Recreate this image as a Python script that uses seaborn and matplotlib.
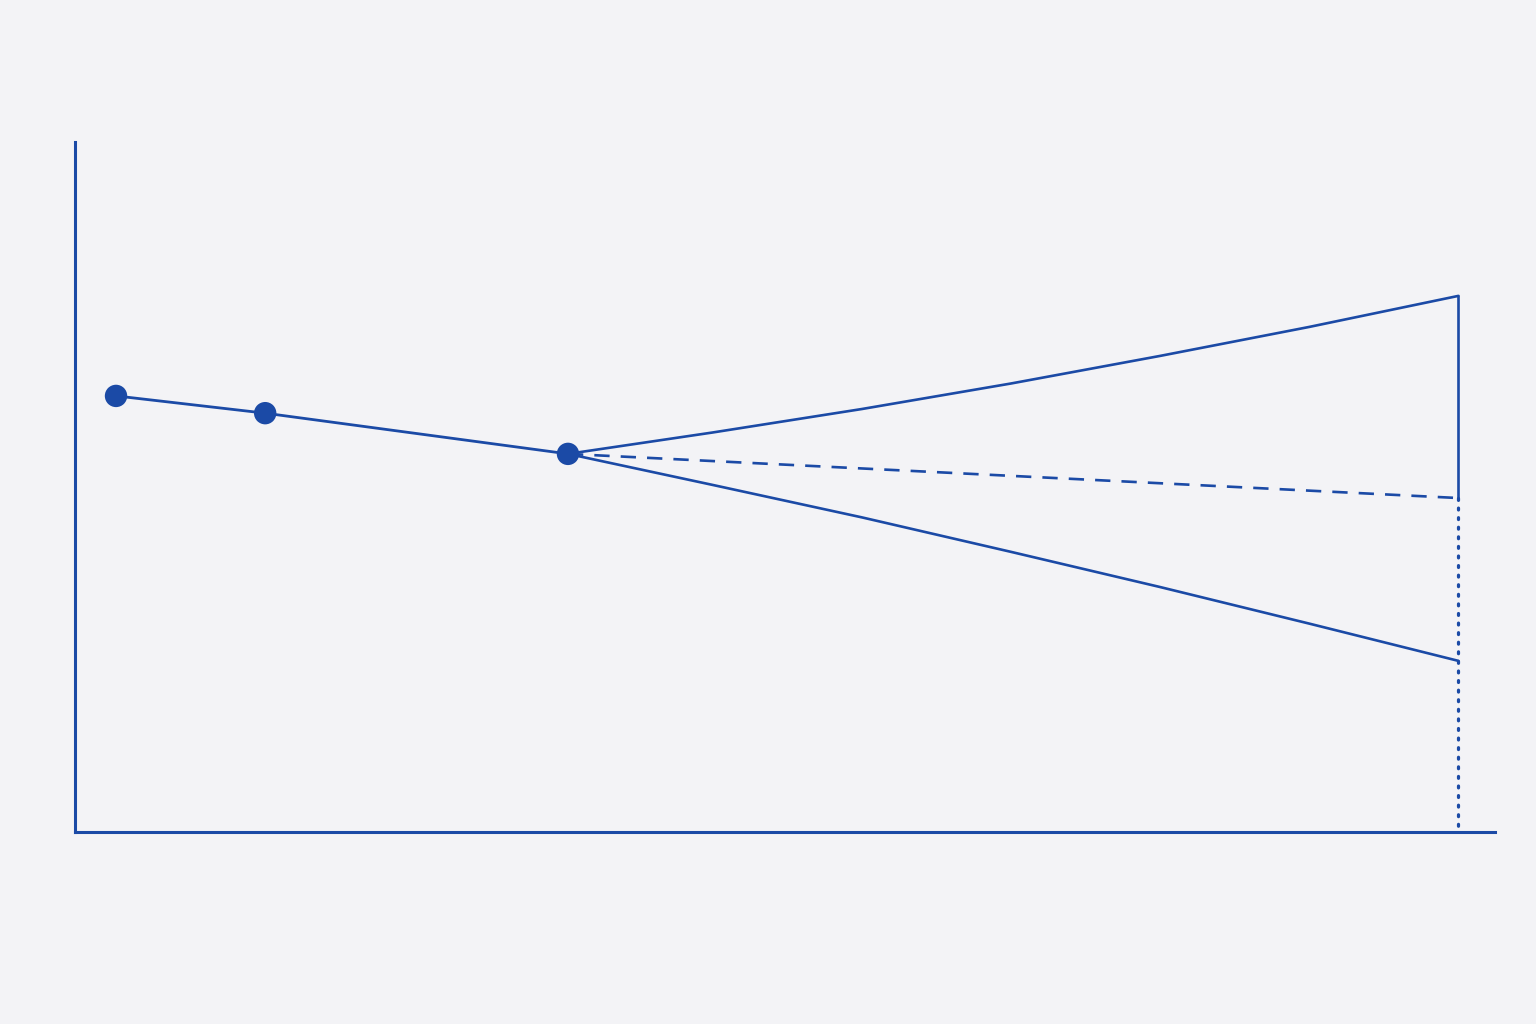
import numpy as np
import pandas as pd
import matplotlib
matplotlib.use("Agg")
import matplotlib.pyplot as plt
import seaborn as sns

# observed points
hist_x = [0, 1, 3.03]
hist_y = [63.2, 60.7, 54.8]

# forecast fan
fc_x = [3.03, 4, 5, 6, 7, 8, 9]
fc_upper = [54.8, 57.9, 61.3, 65.0, 69.0, 73.2, 77.7]
fc_lower = [54.8, 50.3, 45.6, 40.6, 35.5, 30.2, 24.8]
fc_mid_x = [3.03, 9]
fc_mid = [54.8, 48.4]

BLUE = "#1b4aa6"
BG = "#f3f3f6"

sns.set_theme(style="white")
fig = plt.figure(figsize=(15.36, 10.24), dpi=100)
fig.patch.set_facecolor(BG)
ax = fig.add_axes([75 / 1536, 192 / 1024, 1420 / 1536, 690 / 1024])
ax.set_facecolor(BG)

hist = pd.DataFrame({"x": hist_x, "y": hist_y})
sns.lineplot(data=hist, x="x", y="y", ax=ax, color=BLUE, lw=2.0)
sns.scatterplot(data=hist, x="x", y="y", ax=ax, color=BLUE, s=260,
                edgecolor="none", zorder=5)

sns.lineplot(x=fc_x, y=fc_upper, ax=ax, color=BLUE, lw=1.9)
sns.lineplot(x=fc_x, y=fc_lower, ax=ax, color=BLUE, lw=1.9)
sns.lineplot(x=fc_mid_x, y=fc_mid, ax=ax, color=BLUE, lw=1.9,
             dashes=False).lines[-1].set_dashes((5.8, 4.2))

# end bracket: solid from upper to mid, dotted from mid down to axis
ax.plot([fc_x[-1], fc_x[-1]], [fc_upper[-1], fc_mid[-1]], color=BLUE, lw=1.9)
ax.plot([fc_x[-1], fc_x[-1]], [fc_mid[-1], 0], color=BLUE, lw=2.3,
        linestyle=(0, (0.6, 2.4)), dash_capstyle="round")

ax.set_xlim(-0.275, 9.245)
ax.set_ylim(0, 100)
ax.set_xticks([])
ax.set_yticks([])
ax.set_xlabel("")
ax.set_ylabel("")
for side in ["top", "right"]:
    ax.spines[side].set_visible(False)
for side in ["left", "bottom"]:
    ax.spines[side].set_color(BLUE)
    ax.spines[side].set_linewidth(2.2)

fig.savefig("out.png", dpi=100, facecolor=BG)
